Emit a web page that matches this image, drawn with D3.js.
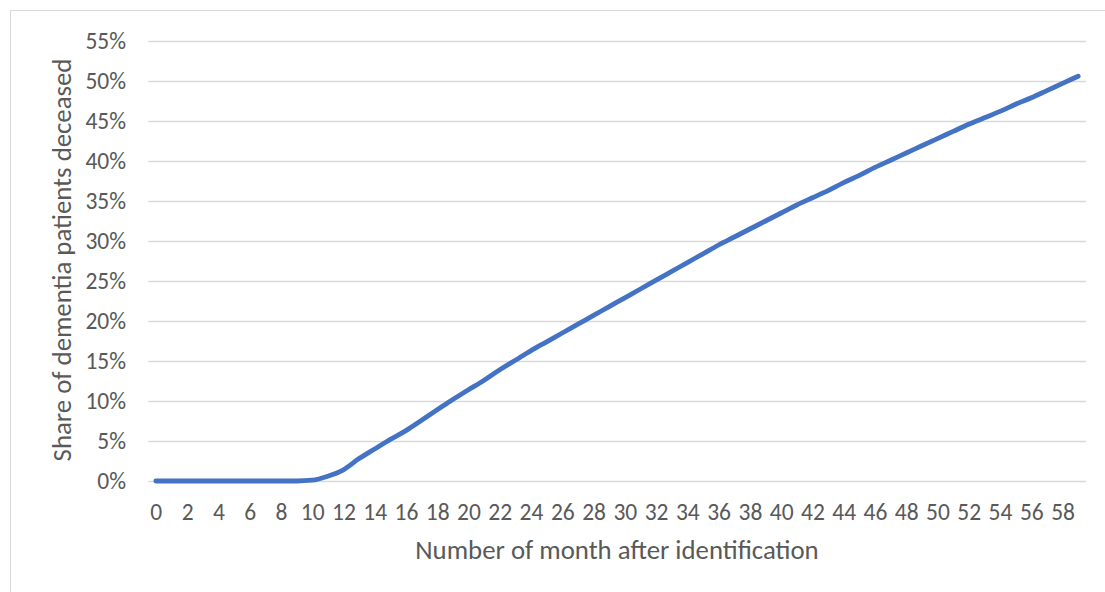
<!DOCTYPE html>
<html>
<head>
<meta charset="utf-8">
<script src="https://cdn.jsdelivr.net/npm/d3@7"></script>
<style>
  html, body { margin: 0; padding: 0; background: #fff; }
  svg { display: block; }
  text { font-family: Carlito, Lato, "Open Sans", sans-serif; fill: #595959; }
</style>
</head>
<body>
<svg id="chart" width="1105" height="592"></svg>
<script>
const months = d3.range(0, 60);
const deceasedPct = [
  0, 0, 0, 0, 0, 0, 0, 0, 0, 0, 0.1,
  0.6, 1.4, 2.8, 4.0, 5.2, 6.3, 7.6, 8.9, 10.2, 11.4,
  12.6, 13.9, 15.1, 16.3, 17.4, 18.5, 19.6, 20.7, 21.8, 22.9,
  24.0, 25.1, 26.2, 27.3, 28.4, 29.5, 30.5, 31.5, 32.5, 33.5,
  34.5, 35.4, 36.3, 37.3, 38.2, 39.2, 40.1, 41.0, 41.9, 42.8,
  43.7, 44.6, 45.4, 46.2, 47.1, 47.9, 48.8, 49.7, 50.6
];
const yTicks = [0, 5, 10, 15, 20, 25, 30, 35, 40, 45, 50, 55];
const xTickLabels = months.filter(m => m % 2 === 0);
const xTitle = "Number of month after identification";
const yTitle = "Share of dementia patients deceased";

const svg = d3.select("#chart");
const plot = { left: 148, right: 1086, top: 41, bottom: 481 };

// outer border
svg.append("rect")
  .attr("x", 10.5).attr("y", 10.5)
  .attr("width", 1200).attr("height", 700)
  .attr("fill", "none").attr("stroke", "#D9D9D9").attr("stroke-width", 1);

const x = d3.scalePoint().domain(months).range([plot.left, plot.right]).padding(0.5);
const y = d3.scaleLinear().domain([0, 55]).range([plot.bottom, plot.top]);

// gridlines + y labels via axis
const yAxis = d3.axisLeft(y).tickValues(yTicks).tickSize(-(plot.right - plot.left))
  .tickFormat(d => d + "%").tickPadding(22);
const gy = svg.append("g").attr("transform", `translate(${plot.left},0)`).call(yAxis);
gy.select(".domain").remove();
gy.selectAll(".tick line").attr("stroke", "#D9D9D9").attr("stroke-width", 1.3);
gy.selectAll(".tick text").attr("font-size", 23.5).attr("fill", "#595959")
  .style("font-family", "Carlito, Lato, sans-serif");

// x axis labels
const xAxis = d3.axisBottom(x).tickValues(xTickLabels).tickSize(0).tickPadding(22.5);
const gx = svg.append("g").attr("transform", `translate(0,${plot.bottom})`).call(xAxis);
gx.select(".domain").remove();
gx.selectAll(".tick text").attr("font-size", 23.5).attr("fill", "#595959")
  .style("font-family", "Carlito, Lato, sans-serif");

// line
const line = d3.line()
  .x((d, i) => x(months[i]))
  .y(d => y(d))
  .curve(d3.curveMonotoneX);
svg.append("path")
  .datum(deceasedPct)
  .attr("d", line)
  .attr("fill", "none")
  .attr("stroke", "#4472C4")
  .attr("stroke-width", 4.8)
  .attr("stroke-linecap", "round")
  .attr("stroke-linejoin", "round");

// titles
svg.append("text")
  .attr("x", 617).attr("y", 559)
  .attr("text-anchor", "middle")
  .attr("font-size", 26.8)
  .text(xTitle);

svg.append("text")
  .attr("transform", `translate(71,260) rotate(-90)`)
  .attr("text-anchor", "middle")
  .attr("font-size", 26.8)
  .text(yTitle);
</script>
</body>
</html>
